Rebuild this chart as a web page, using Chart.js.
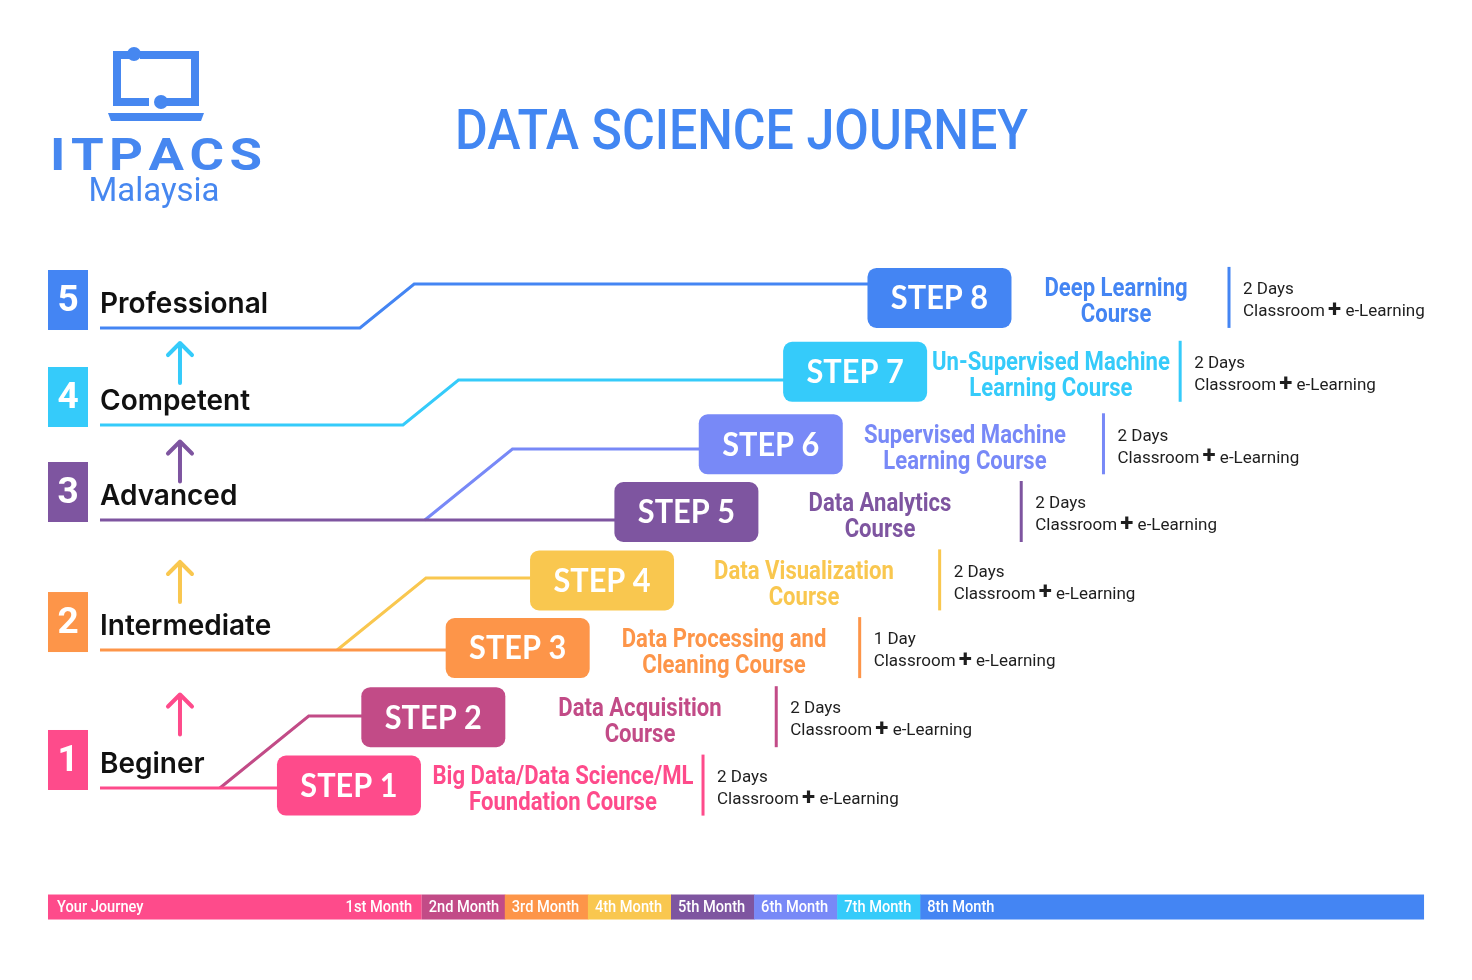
<!DOCTYPE html>
<html>
<head>
<meta charset="utf-8">
<title>Data Science Journey</title>
<script src="https://cdn.jsdelivr.net/npm/chart.js@4.4.1/dist/chart.umd.min.js"></script>
<style>
  html, body { margin: 0; padding: 0; background: #fff; }
  #wrap { width: 1472px; height: 980px; position: relative; }
</style>
</head>
<body>
<div id="wrap"><canvas id="journey" role="img" aria-label="Data science journey infographic"></canvas></div>
<script>
// ---- data ----
const title = 'DATA SCIENCE JOURNEY';
const brand = 'ITPACS';
const brandSub = 'Malaysia';
const levels = ['Beginer', 'Intermediate', 'Advanced', 'Competent', 'Professional'];
const steps = ['STEP 1', 'STEP 2', 'STEP 3', 'STEP 4', 'STEP 5', 'STEP 6', 'STEP 7', 'STEP 8'];
const stepLevel = [1, 1, 2, 2, 3, 3, 4, 5];
const courses = [
  ['Big Data/Data Science/ML', 'Foundation Course'],
  ['Data Acquisition', 'Course'],
  ['Data Processing and', 'Cleaning Course'],
  ['Data Visualization', 'Course'],
  ['Data Analytics', 'Course'],
  ['Supervised Machine', 'Learning Course'],
  ['Un-Supervised Machine', 'Learning Course'],
  ['Deep Learning', 'Course']
];
const durations = ['2 Days', '2 Days', '1 Day', '2 Days', '2 Days', '2 Days', '2 Days', '2 Days'];
const delivery = ['Classroom', '+', 'e-Learning'];
const journeyLabel = 'Your Journey';
const months = ['1st Month', '2nd Month', '3rd Month', '4th Month', '5th Month', '6th Month', '7th Month', '8th Month'];

// ---- styles ----
const stepColors = ['#fe4b8b', '#c24b87', '#fd9549', '#f9c74f', '#7e55a0', '#7889f7', '#35cbfa', '#4485f3'];
const levelColors = ['#fe4b8b', '#fd9549', '#7e55a0', '#35cbfa', '#4485f3'];
const arrowColors = ['#fe4b8b', '#f9c74f', '#7e55a0', '#35cbfa'];
const brandBlue = '#4687f0';

// ---- layout (scale units: x = step column, y = row) ----
const W = 1472, H = 980;
const X0 = 264.6, DX = 84.36;   // step columns
const Y0 = 854, DY = 68.4;      // rows
const M0 = 297.05, DM = 83.1;   // month centres on the journey bar
const boxRow = [1, 2, 3.01, 4, 5, 5.99, 7.05, 8.13];
const lineRow = [0.965, 2.018, 2.982, 4.035, 4.883, 5.921, 6.93, 8.333];
const levelRow = [0.965, 2.982, 4.883, 6.272, 7.69];
const bendAt = [null, -0.53, null, 0.86, null, 1.90, 1.64, 1.13];
const courseOff = [2.537, 2.45, 2.446, 2.394, 2.295, 2.302, 2.321, 2.093];
const dividerOff = [4.197, 4.065, 4.054, 4.002, 3.969, 3.944, 3.853, 3.432];
const arrowRow = [2.039, 3.977, 5.738, 7.178];
const LEFT_COL = -2.5676, LINE_START = -1.9512, ARROW_X = -1.003, BAR_END = 13.744;
const BAR_ROW = -0.775;

// one polyline per step: level underline -> bend -> step box
const pathSets = steps.map((name, i) => {
  const lvl = stepLevel[i] - 1;
  const first = stepLevel.indexOf(stepLevel[i]) === i;
  const base = levelRow[lvl];
  const pts = [];
  if (first) pts.push({ x: LINE_START, y: base });
  if (bendAt[i] !== null) {
    pts.push({ x: bendAt[i], y: base });
    pts.push({ x: bendAt[i] + (lineRow[i] - base), y: lineRow[i] });
  }
  pts.push({ x: i + 1, y: bendAt[i] !== null ? lineRow[i] : base });
  return {
    label: name,
    data: pts,
    showLine: true,
    borderColor: stepColors[i],
    borderWidth: 3,
    pointRadius: 0,
    tension: 0,
    clip: false
  };
});

function squeezeText(ctx, str, x, y, sx, align) {
  ctx.save();
  ctx.translate(x, y);
  ctx.scale(sx, 1);
  ctx.textAlign = align;
  ctx.fillText(str, 0, 0);
  ctx.restore();
}

function drawLogo(ctx) {
  ctx.save();
  ctx.strokeStyle = brandBlue;
  ctx.fillStyle = brandBlue;
  ctx.lineWidth = 8;
  ctx.lineJoin = 'miter';
  ctx.beginPath();
  ctx.moveTo(132, 55); ctx.lineTo(117, 55); ctx.lineTo(117, 102); ctx.lineTo(149, 102);
  ctx.moveTo(161, 102); ctx.lineTo(195, 102); ctx.lineTo(195, 55); ctx.lineTo(140, 55);
  ctx.stroke();
  ctx.beginPath(); ctx.arc(134, 54, 7, 0, Math.PI * 2); ctx.fill();
  ctx.beginPath(); ctx.arc(161, 102, 7, 0, Math.PI * 2); ctx.fill();
  ctx.beginPath();
  ctx.moveTo(108, 113); ctx.lineTo(204, 113); ctx.lineTo(201, 121); ctx.lineTo(111, 121);
  ctx.closePath(); ctx.fill();

  // brand letters, stretched wide and spread over a fixed width
  const stretch = 1.2;
  ctx.font = '700 44px Roboto';
  ctx.textBaseline = 'alphabetic';
  ctx.textAlign = 'left';
  const widths = brand.split('').map(ch => ctx.measureText(ch).width * stretch);
  const sum = widths.reduce((a, b) => a + b, 0);
  const gap = (212 - sum) / (brand.length - 1);
  let bx = 50;
  brand.split('').forEach((ch, i) => {
    squeezeText(ctx, ch, bx, 170, stretch, 'left');
    bx += widths[i] + gap;
  });

  ctx.font = '400 33px Roboto';
  ctx.textAlign = 'center';
  ctx.fillText(brandSub, 154, 201);
  ctx.restore();
}

const journeyPlugin = {
  id: 'journeyArt',
  beforeDatasetsDraw(chart) {
    const { ctx, scales } = chart;
    const x = scales.x, y = scales.y, xm = scales.xm;
    ctx.save();
    drawLogo(ctx);

    // title
    ctx.fillStyle = '#4286f2';
    ctx.font = '500 56px Roboto';
    ctx.textBaseline = 'alphabetic';
    const tw = ctx.measureText(title).width;
    squeezeText(ctx, title, 741.5, 149, 573 / tw, 'center');

    // level markers
    levels.forEach((name, i) => {
      const bx = x.getPixelForValue(LEFT_COL);
      const by = y.getPixelForValue(levelRow[i]);
      ctx.fillStyle = levelColors[i];
      ctx.fillRect(bx, by - 58, 40, 60);
      ctx.fillStyle = '#fff';
      ctx.font = '700 37px Roboto';
      ctx.textAlign = 'center';
      ctx.textBaseline = 'middle';
      ctx.fillText(String(i + 1), bx + 20, by - 26);
      ctx.fillStyle = '#111';
      ctx.font = '600 28px Inter';
      ctx.textAlign = 'left';
      ctx.textBaseline = 'alphabetic';
      ctx.fillText(name, x.getPixelForValue(LINE_START), by - 15);
    });

    // arrows between levels
    ctx.lineWidth = 4;
    ctx.lineCap = 'round';
    ctx.lineJoin = 'round';
    arrowRow.forEach((r, i) => {
      const ax = x.getPixelForValue(ARROW_X);
      const ay = y.getPixelForValue(r);
      ctx.strokeStyle = arrowColors[i];
      ctx.beginPath();
      ctx.moveTo(ax, ay + 20); ctx.lineTo(ax, ay - 20);
      ctx.moveTo(ax - 12, ay - 8); ctx.lineTo(ax, ay - 20); ctx.lineTo(ax + 12, ay - 8);
      ctx.stroke();
    });

    // journey bar (1st month shares the journey colour)
    const barY = y.getPixelForValue(BAR_ROW);
    const barL = x.getPixelForValue(LEFT_COL);
    const barR = x.getPixelForValue(BAR_END);
    ctx.fillStyle = stepColors[0];
    ctx.fillRect(barL, barY - 12.5, xm.getPixelForValue(1.5) - barL, 25);
    months.forEach((m, i) => {
      if (i === 0) return;
      const s = xm.getPixelForValue(i + 0.5);
      const e = i === months.length - 1 ? barR : xm.getPixelForValue(i + 1.5) + 0.5;
      ctx.fillStyle = stepColors[i];
      ctx.fillRect(s, barY - 12.5, e - s, 25);
    });
    ctx.fillStyle = '#fff';
    ctx.font = '500 17px Roboto';
    ctx.textBaseline = 'middle';
    squeezeText(ctx, journeyLabel, barL + 9, barY + 1, 0.86, 'left');
    months.forEach((m, i) => {
      squeezeText(ctx, m, xm.getPixelForValue(i + 0.5) + 7, barY + 1, 0.86, 'left');
    });
    ctx.restore();
  },
  afterDatasetsDraw(chart) {
    const { ctx, scales } = chart;
    const x = scales.x, y = scales.y;
    ctx.save();
    steps.forEach((name, i) => {
      const cx = x.getPixelForValue(i + 1);
      const cy = y.getPixelForValue(boxRow[i]);
      ctx.fillStyle = stepColors[i];
      ctx.beginPath();
      ctx.roundRect(cx - 72, cy - 30, 144, 60, 9);
      ctx.fill();
      ctx.fillStyle = '#fff';
      ctx.font = '700 32px Lato';
      ctx.textAlign = 'center';
      ctx.textBaseline = 'middle';
      squeezeText(ctx, name, cx, cy + 1, 0.96, 'center');

      // course title
      const tx = x.getPixelForValue(i + 1 + courseOff[i]);
      ctx.fillStyle = stepColors[i];
      ctx.font = '700 26px Roboto';
      squeezeText(ctx, courses[i][0], tx, cy - 8, 0.85, 'center');
      squeezeText(ctx, courses[i][1], tx, cy + 18, 0.85, 'center');

      // divider + details
      const dx = x.getPixelForValue(i + 1 + dividerOff[i]);
      ctx.fillRect(dx - 1.5, cy - 31, 3, 61);
      ctx.fillStyle = '#1e1e1e';
      ctx.textAlign = 'left';
      ctx.font = '400 17px Roboto';
      ctx.fillText(durations[i], dx + 14, cy - 8);
      let lx = dx + 14;
      const ly = cy + 14;
      ctx.fillText(delivery[0], lx, ly);
      lx += ctx.measureText(delivery[0] + ' ').width;
      ctx.font = '700 24px Roboto';
      ctx.fillText(delivery[1], lx - 1, ly - 1);
      lx += ctx.measureText(delivery[1]).width;
      ctx.font = '400 17px Roboto';
      lx += ctx.measureText(' ').width - 1;
      ctx.fillText(delivery[2], lx, ly);
    });
    ctx.restore();
  }
};

new Chart(document.getElementById('journey'), {
  type: 'scatter',
  data: { datasets: pathSets },
  options: {
    responsive: true,
    maintainAspectRatio: false,
    animation: false,
    layout: { padding: 0 },
    plugins: { legend: { display: false }, tooltip: { enabled: false } },
    scales: {
      x: { type: 'linear', display: false, min: -X0 / DX, max: (W - X0) / DX },
      xm: { type: 'linear', axis: 'x', display: false, min: -M0 / DM, max: (W - M0) / DM },
      y: { type: 'linear', display: false, min: (Y0 - H) / DY, max: Y0 / DY }
    }
  },
  plugins: [journeyPlugin]
});
</script>
</body>
</html>
